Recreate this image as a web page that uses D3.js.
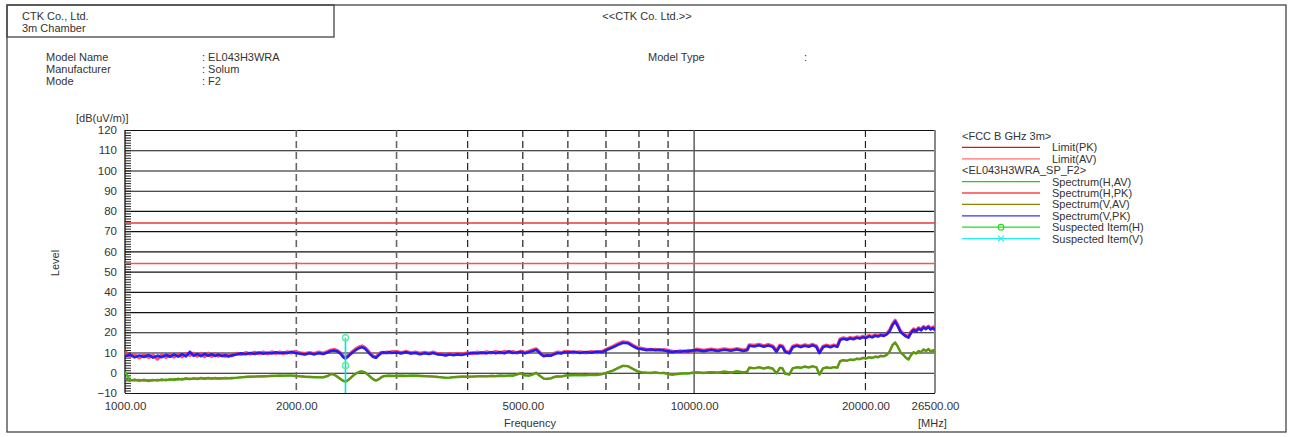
<!DOCTYPE html>
<html>
<head>
<meta charset="utf-8">
<script src="https://cdn.jsdelivr.net/npm/d3@7"></script>
<style>
body { margin: 0; background: #fff; }
svg text { font-family: "Liberation Sans", Arial, sans-serif; font-size: 11px; fill: #333; }
</style>
</head>
<body>
<svg id="chart"></svg>
<script>
// spectrum scan data (MHz / dB(uV/m))
var freqs = [
  1000,1020,1040,1060,1080,1100,1120,1140,1160,1180,1200,1220,1240,1260,1280,1300,1320,1340,1360,1380,1400,1420,1440,1460,1480,1500,1520,1540,
  1570,1600,1630,1660,1690,1720,1750,1780,1810,1840,1870,1900,1930,1960,1990,
  2030,2070,2110,2150,2190,2230,2270,2300,2330,2360,2390,2420,2440,2460,2490,2520,2550,2580,2610,2640,2670,2700,2730,2760,2790,2820,2850,2880,2910,2940,
  3000,3060,3120,3180,3240,3300,3360,3420,3480,3540,3600,3660,3720,3780,3840,3900,3960,
  4000,4080,4160,4240,4320,4400,4480,4560,4640,4720,4800,4880,4960,5040,5120,5200,5280,5360,5440,5520,5600,5680,5760,5840,5920,
  6000,6150,6300,6450,6600,6750,6900,7050,7200,7350,7500,7650,7800,7950,8100,8250,8400,8550,8700,8850,9000,9150,9300,9450,9600,9750,9900,
  10100,10400,10700,11000,11300,11600,11900,12200,12400,12500,12750,13000,13250,13500,13750,13950,14150,14300,14450,14700,
  14900,15150,15400,15650,15900,16150,16400,16600,16850,17100,17350,17600,17850,18050,18300,18550,18800,19050,19300,19550,19800,
  20050,20300,20550,20800,21050,21300,21550,21800,22050,22300,22550,22800,23050,23300,23550,23800,
  24050,24300,24550,24800,25050,25300,25550,25800,26050,26300,26500
];

var pkV = [
  8.0,9.0,7.6,8.6,7.8,8.8,7.5,8.5,7.7,8.9,7.9,9.1,8.0,9.2,8.1,10.4,8.3,9.3,8.2,9.4,8.4,9.2,8.3,9.0,8.2,8.8,8.0,8.6,
  9.0,9.6,9.2,9.8,9.3,10.0,9.4,9.9,9.5,10.1,9.6,10.0,9.7,10.4,9.8,
  9.4,9.0,9.6,9.1,9.7,9.3,10.0,10.8,11.0,10.6,9.5,7.6,7.0,7.8,9.2,10.4,11.4,12.2,12.6,12.0,10.5,9.0,7.8,7.4,8.6,9.8,10.2,9.7,10.3,9.8,
  10.0,9.6,10.2,9.5,9.8,9.2,9.7,9.3,9.8,9.1,8.9,8.6,9.0,8.7,9.1,8.8,9.2,
  9.4,9.9,9.5,10.0,9.6,10.1,9.7,10.2,9.6,10.6,9.8,10.0,10.3,9.7,10.2,10.8,11.4,9.6,8.2,8.6,8.4,9.2,9.8,9.5,10.1,
  10.0,10.4,9.8,10.3,9.9,10.5,10.2,11.5,12.6,13.8,14.8,14.6,13.2,12.0,11.6,11.2,11.6,11.1,11.5,11.0,10.6,10.2,10.6,10.4,10.8,10.5,11.0,
  11.2,10.7,11.3,10.8,11.4,10.9,11.5,10.8,11.2,13.4,13.0,13.6,12.9,13.5,12.8,10.4,13.2,12.8,10.4,9.6,
  12.6,13.3,12.7,13.4,12.9,13.6,12.8,9.7,12.7,13.2,12.6,13.3,12.8,16.2,16.8,16.3,17.0,16.6,17.3,16.9,17.6,
  17.2,18.0,17.5,18.3,17.9,18.6,18.2,19.0,20.5,23.5,25.4,23.0,20.2,19.0,18.0,17.4,
  19.8,21.2,20.5,21.8,21.0,22.4,21.6,22.6,21.4,22.2,21.0
];

var pkH = [
  10.5,8.2,8.8,7.4,8.9,7.6,8.7,6.8,8.8,7.6,9.0,7.8,9.3,7.9,9.5,8.6,9.6,8.2,9.5,8.0,9.6,8.1,9.4,8.3,9.2,8.1,9.0,8.4,
  9.5,9.1,9.9,9.3,10.1,9.5,10.2,9.4,10.3,9.6,10.2,9.5,10.3,9.8,10.5,
  9.8,9.4,10.0,9.5,10.2,9.6,10.5,11.2,11.4,10.9,9.8,8.0,7.4,8.2,9.6,10.8,12.0,12.8,13.2,12.4,11.0,9.4,8.2,7.8,9.0,10.1,9.8,10.2,9.9,10.4,
  10.4,9.9,10.5,9.8,10.2,9.6,10.1,9.6,10.2,9.4,9.3,8.9,9.4,9.1,9.5,9.2,9.6,
  9.8,9.5,10.2,9.7,10.3,9.8,10.4,9.9,10.5,10.1,10.4,9.8,10.6,10.0,10.6,11.2,11.8,10.0,8.6,9.0,8.8,9.6,10.2,9.9,10.5,
  10.4,10.0,10.3,9.9,10.4,10.0,10.6,11.9,13.0,14.3,15.3,15.0,13.6,12.4,12.0,11.6,11.2,11.6,11.1,11.4,11.0,10.6,10.2,10.8,10.4,11.0,10.7,
  11.6,11.1,11.7,11.2,11.8,11.3,11.9,11.2,11.6,13.8,13.5,14.0,13.3,13.9,13.2,10.8,13.6,13.2,10.8,10.0,
  13.0,13.7,13.1,13.8,13.3,14.0,13.2,10.1,13.1,13.6,13.0,13.7,13.2,16.6,17.2,16.7,17.4,17.0,17.7,17.3,18.0,
  17.6,18.4,17.9,18.7,18.3,19.0,18.6,19.4,20.9,23.9,25.9,23.4,20.6,19.4,18.4,17.8,
  20.2,21.6,20.9,22.2,21.4,22.8,22.0,23.0,21.8,22.6,21.4
];

var avV = [
  -3.0,-4.0,-3.2,-4.1,-3.3,-4.2,-3.4,-4.0,-3.2,-3.9,-3.0,-3.7,-2.8,-3.5,-2.6,-3.3,-2.5,-3.2,-2.4,-3.1,-2.4,-3.0,-2.5,-3.0,-2.6,-2.9,-2.6,-2.8,
  -2.4,-2.2,-2.0,-1.9,-1.8,-1.7,-1.8,-1.6,-1.5,-1.6,-1.4,-1.5,-1.3,-1.4,-1.5,
  -1.7,-1.9,-2.0,-2.1,-2.2,-2.2,-1.5,-0.5,-0.8,-1.8,-3.0,-4.0,-4.3,-3.8,-2.6,-1.2,-0.2,0.5,0.7,0.3,-0.8,-2.0,-3.2,-3.8,-3.2,-2.2,-1.6,-1.5,-1.4,-1.5,
  -1.5,-1.4,-1.5,-1.3,-1.4,-1.5,-1.6,-1.7,-1.8,-2.0,-2.2,-2.4,-2.3,-2.1,-2.0,-1.9,-1.9,
  -1.9,-1.8,-1.7,-1.6,-1.7,-1.5,-1.6,-1.4,-1.5,-1.3,-1.4,-0.8,-0.2,-1.2,-1.4,-0.8,0.0,-1.5,-2.8,-3.0,-2.7,-2.0,-1.7,-1.8,-1.4,
  -1.2,-1.1,-1.0,-1.1,-0.9,-1.0,-0.6,0.3,1.2,2.4,3.5,3.3,2.0,0.8,0.3,0.1,0.0,0.2,-0.1,0.0,-0.5,-0.9,-0.6,-0.4,-0.2,-0.3,0.0,
  0.2,0.0,0.4,0.1,0.6,0.2,0.7,0.3,0.6,2.6,2.3,2.8,2.2,2.7,2.1,-0.2,2.5,2.2,-0.4,-0.8,
  2.3,2.8,2.5,3.1,2.7,3.3,2.8,-0.8,2.3,2.7,2.4,2.9,2.6,5.8,6.3,6.0,6.6,6.4,7.0,6.8,7.4,
  7.1,7.7,7.4,8.0,7.8,8.4,8.2,8.9,10.5,13.6,15.0,13.0,10.2,9.0,7.5,6.6,
  8.8,10.2,9.6,10.8,10.2,11.6,10.8,11.8,10.6,11.2,10.0
];

var avH = [
  0.5,-3.6,-3.8,-3.6,-3.9,-3.7,-3.8,-3.5,-3.7,-3.4,-3.5,-3.2,-3.3,-3.0,-3.1,-2.9,-3.0,-2.8,-2.9,-2.7,-2.8,-2.7,-2.8,-2.7,-2.8,-2.6,-2.7,-2.6,
  -2.5,-2.3,-2.1,-2.0,-1.9,-1.8,-1.7,-1.7,-1.6,-1.5,-1.5,-1.4,-1.4,-1.4,-1.6,
  -1.8,-2.0,-2.1,-2.2,-2.3,-2.3,-1.7,-0.7,-1.0,-2.0,-3.1,-4.1,-4.4,-3.9,-2.7,-1.3,-0.3,0.4,0.6,0.2,-0.9,-2.1,-3.3,-3.9,-3.3,-2.3,-1.7,-1.6,-1.5,-1.6,
  -1.6,-1.5,-1.6,-1.4,-1.5,-1.6,-1.7,-1.8,-1.9,-2.1,-2.3,-2.5,-2.4,-2.2,-2.1,-2.0,-2.0,
  -2.0,-1.9,-1.8,-1.7,-1.8,-1.6,-1.7,-1.5,-1.6,-1.4,-1.5,-0.9,-0.3,-1.3,-1.5,-0.9,-0.1,-1.6,-2.9,-3.1,-2.8,-2.1,-1.8,-1.9,-1.5,
  -1.3,-1.2,-1.1,-1.2,-1.0,-1.1,-0.7,0.2,1.1,2.3,3.4,3.2,1.9,0.7,0.2,0.0,-0.1,0.1,-0.2,-0.1,-0.6,-1.0,-0.7,-0.5,-0.3,-0.4,-0.1,
  0.1,-0.1,0.3,0.0,0.5,0.1,0.6,0.2,0.5,2.5,2.2,2.7,2.1,2.6,2.0,-0.3,2.4,2.1,-0.5,-0.9,
  2.2,2.7,2.4,3.0,2.6,3.2,2.7,-0.9,2.2,2.6,2.3,2.8,2.5,5.7,6.2,5.9,6.5,6.3,6.9,6.7,7.3,
  7.0,7.6,7.3,7.9,7.7,8.3,8.1,8.8,10.4,13.5,14.9,12.9,10.1,8.9,7.4,6.5,
  8.7,10.1,9.5,10.7,10.1,11.5,10.7,11.7,10.5,11.1,9.9
];

// limits (FCC class B, 3m)
var limitPK = 74, limitAV = 54;

// suspected item
var susFreq = [2440];
var susLevel = [17.3, 3.6];

var xTicks = [1000, 2000, 5000, 10000, 20000, 26500];
var xDashed = [2000, 3000, 4000, 5000, 6000, 7000, 8000, 9000, 20000];
var yTicks = d3.range(-10, 121, 10);

var legendItems = [
  {label: "<FCC B GHz 3m>", head: true},
  {label: "Limit(PK)", color: "#dd1111"},
  {label: "Limit(AV)", color: "#ff6f6f"},
  {label: "<EL043H3WRA_SP_F2>", head: true},
  {label: "Spectrum(H,AV)", color: "#22cc22"},
  {label: "Spectrum(H,PK)", color: "#ff4444"},
  {label: "Spectrum(V,AV)", color: "#8a8200"},
  {label: "Spectrum(V,PK)", color: "#3333ff"},
  {label: "Suspected Item(H)", color: "#22dd22", mark: "o"},
  {label: "Suspected Item(V)", color: "#22eeee", mark: "x"}
];

var W = 1289, H = 437;
var pLeft = 125, pRight = 935, pTop = 130, pBottom = 393;

var svg = d3.select("#chart").attr("width", W).attr("height", H);

// frame + header box
svg.append("rect").attr("x", 7).attr("y", 5).attr("width", 1279).attr("height", 427)
   .attr("fill", "none").attr("stroke", "#444").attr("stroke-width", 1.3);
svg.append("rect").attr("x", 7).attr("y", 5).attr("width", 327).attr("height", 32)
   .attr("fill", "none").attr("stroke", "#444").attr("stroke-width", 1.3);

svg.append("text").attr("x", 22).attr("y", 20).text("CTK Co., Ltd.");
svg.append("text").attr("x", 22).attr("y", 32).text("3m Chamber");
svg.append("text").attr("x", 647).attr("y", 20).attr("text-anchor", "middle").text("<<CTK Co. Ltd.>>");

var info = [["Model Name", ": EL043H3WRA"], ["Manufacturer", ": Solum"], ["Mode", ": F2"]];
info.forEach(function(d, i) {
    svg.append("text").attr("x", 46).attr("y", 61 + i * 12).text(d[0]);
    svg.append("text").attr("x", 202).attr("y", 61 + i * 12).text(d[1]);
});
svg.append("text").attr("x", 648).attr("y", 61).text("Model Type");
svg.append("text").attr("x", 804).attr("y", 61).text(":");

var x = d3.scaleLog().domain([1000, 26500]).range([pLeft, pRight]);
var y = d3.scaleLinear().domain([-10, 120]).range([pBottom, pTop]);

// horizontal grid
svg.append("g")
   .attr("transform", "translate(" + pLeft + ",0)")
   .call(d3.axisLeft(y).tickValues(yTicks).tickSize(-(pRight - pLeft)).tickFormat(""))
   .call(function(g) { g.select(".domain").remove(); })
   .selectAll("line").attr("stroke", "#111").attr("stroke-width", 1.1);

// vertical grid
svg.append("g").selectAll("line")
   .data(xDashed).enter().append("line")
   .attr("x1", function(d) { return x(d); }).attr("x2", function(d) { return x(d); })
   .attr("y1", pTop).attr("y2", pBottom)
   .attr("stroke", function(d) { return d < 3500 ? "#666" : "#222"; })
   .attr("stroke-width", function(d) { return d < 3500 ? 1.6 : 1.2; })
   .attr("stroke-dasharray", "7,4");
svg.append("line")
   .attr("x1", x(10000)).attr("x2", x(10000)).attr("y1", pTop).attr("y2", pBottom)
   .attr("stroke", "#555").attr("stroke-width", 1.4);

// y labels + minor ticks
svg.append("g")
   .attr("transform", "translate(" + pLeft + ",0)")
   .call(d3.axisLeft(y).tickValues(yTicks).tickSize(0).tickPadding(8))
   .call(function(g) { g.select(".domain").remove(); })
   .selectAll("text").style("font-size", "11.5px");
svg.append("g")
   .attr("transform", "translate(" + pLeft + ",0)")
   .call(d3.axisRight(y).tickValues(d3.range(-10, 120.01, 1.25)).tickSize(6).tickFormat(""))
   .call(function(g) { g.select(".domain").remove(); })
   .selectAll("line").attr("stroke", "#222");

// x labels
svg.append("g")
   .attr("transform", "translate(0," + pBottom + ")")
   .call(d3.axisBottom(x).tickValues(xTicks).tickSize(0).tickPadding(9).tickFormat(d3.format(".2f")))
   .call(function(g) { g.select(".domain").remove(); })
   .selectAll("text").style("font-size", "11.5px");

// plot borders
svg.append("line").attr("x1", pLeft).attr("x2", pLeft).attr("y1", pTop).attr("y2", pBottom).attr("stroke", "#111").attr("stroke-width", 1.3);
svg.append("line").attr("x1", pRight).attr("x2", pRight).attr("y1", pTop).attr("y2", pBottom).attr("stroke", "#888").attr("stroke-width", 2);

svg.append("text").attr("x", 76).attr("y", 122).text("[dB(uV/m)]");
svg.append("text").attr("transform", "translate(59,263) rotate(-90)").attr("text-anchor", "middle").text("Level");
svg.append("text").attr("x", 530).attr("y", 427).attr("text-anchor", "middle").text("Frequency");
svg.append("text").attr("x", 918).attr("y", 427).text("[MHz]");

// limits
svg.append("line").attr("x1", pLeft).attr("x2", pRight).attr("y1", y(limitPK)).attr("y2", y(limitPK))
   .attr("stroke", "#e63a3a").attr("stroke-width", 1.5);
svg.append("line").attr("x1", pLeft).attr("x2", pRight).attr("y1", y(limitAV)).attr("y2", y(limitAV))
   .attr("stroke", "#f05656").attr("stroke-width", 1.5);

// traces
svg.append("clipPath").attr("id", "plotclip").append("rect")
   .attr("x", pLeft).attr("y", pTop).attr("width", pRight - pLeft).attr("height", pBottom - pTop);

var line = d3.line()
    .x(function(d) { return x(d[0]); })
    .y(function(d) { return y(d[1]); });

function trace(vals, color, w, op) {
    svg.append("path")
       .datum(d3.zip(freqs, vals))
       .attr("clip-path", "url(#plotclip)")
       .attr("fill", "none")
       .attr("stroke", color)
       .attr("stroke-width", w)
       .attr("stroke-opacity", op)
       .attr("stroke-linejoin", "round")
       .attr("d", line);
}
trace(avH, "#3cbf1c", 2.4, 1);
trace(avV, "#6f8a12", 2.0, 0.9);
trace(pkH, "#ff3c5a", 3.4, 0.9);
trace(pkV, "#1414ff", 2.6, 0.9);

// suspected item
svg.append("line")
   .attr("x1", x(susFreq[0])).attr("x2", x(susFreq[0]))
   .attr("y1", pBottom).attr("y2", y(susLevel[0]))
   .attr("stroke", "#00e0e0").attr("stroke-width", 1.6);
svg.selectAll(".sus").data(susLevel).enter().append("circle")
   .attr("class", "sus")
   .attr("cx", x(susFreq[0])).attr("cy", function(d) { return y(d); })
   .attr("r", 3)
   .attr("fill", "none").attr("stroke", "#55ee99").attr("stroke-width", 1.3);

// legend
var lg = svg.append("g").attr("transform", "translate(962,0)");
legendItems.forEach(function(d, i) {
    var ly = 136 + i * 11.4;
    if (d.head) {
        lg.append("text").attr("x", 0).attr("y", ly + 4).text(d.label);
        return;
    }
    lg.append("line").attr("x1", 0).attr("x2", 78).attr("y1", ly).attr("y2", ly)
      .attr("stroke", d.color).attr("stroke-width", 1.3);
    if (d.mark == "o") {
        lg.append("circle").attr("cx", 39).attr("cy", ly).attr("r", 2.8)
          .attr("fill", "none").attr("stroke", d.color).attr("stroke-width", 1.1);
    }
    if (d.mark == "x") {
        lg.append("path").attr("d", "M36," + (ly - 3) + "L42," + (ly + 3) + "M36," + (ly + 3) + "L42," + (ly - 3))
          .attr("stroke", d.color).attr("stroke-width", 1.1);
    }
    lg.append("text").attr("x", 90).attr("y", ly + 4).text(d.label);
});
</script>
</body>
</html>
